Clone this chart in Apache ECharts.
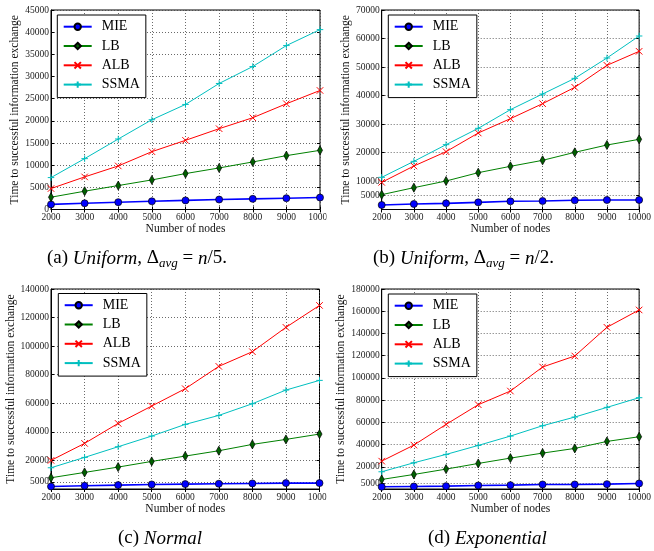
<!DOCTYPE html>
<html>
<head>
<meta charset="utf-8">
<script src="https://cdn.jsdelivr.net/npm/echarts@6/dist/echarts.min.js"></script>
<style>
html,body{margin:0;padding:0;background:#fff;}
#c{width:654px;height:551px;}
</style>
</head>
<body>
<div id="c"></div>
<script>
// ---------------- data ----------------
const nodes = [2000, 3000, 4000, 5000, 6000, 7000, 8000, 9000, 10000];
const seriesNames = ['MIE', 'LB', 'ALB', 'SSMA'];

// (a) Uniform, avg = n/5
const a_MIE  = [1150, 1400, 1650, 1850, 2050, 2250, 2400, 2550, 2700];
const a_LB   = [2775, 4125, 5400, 6675, 8100, 9375, 10725, 12150, 13350];
const a_ALB  = [4725, 7350, 9825, 13050, 15600, 18225, 20700, 23850, 26850];
const a_SSMA = [7200, 11475, 15900, 20250, 23700, 28425, 32250, 36975, 40575];

// (b) Uniform, avg = n/2
const b_MIE  = [1580, 1930, 2160, 2510, 2870, 2980, 3220, 3330, 3350];
const b_LB   = [5200, 7660, 10000, 12920, 15150, 17250, 20060, 22630, 24620];
const b_ALB  = [9530, 15260, 20290, 26840, 31870, 37130, 42870, 50580, 55500];
const b_SSMA = [11290, 16900, 22750, 28480, 35030, 40530, 46020, 53160, 60880];

// (c) Normal
const c_MIE  = [1800, 2260, 2730, 3200, 3430, 3670, 3900, 4130, 4130];
const c_LB   = [7870, 11600, 15340, 19310, 23040, 26780, 31220, 34720, 38450];
const c_ALB  = [20010, 31920, 45920, 58060, 70200, 85840, 96110, 113150, 128500];
const c_SSMA = [14870, 22110, 29580, 37050, 45220, 51520, 59690, 69260, 76030];

// (d) Exponential
const d_MIE  = [1980, 2280, 2580, 3180, 3480, 4080, 4080, 4380, 4980];
const d_LB   = [8590, 13090, 17900, 23000, 27810, 32310, 36520, 42820, 47030];
const d_ALB  = [25100, 39520, 58140, 75860, 88170, 109790, 119700, 145530, 161140];
const d_SSMA = [15500, 23600, 31110, 39220, 47630, 56940, 64750, 73460, 82170];

// tick labels
const xTicks = [2000, 3000, 4000, 5000, 6000, 7000, 8000, 9000, 10000];
const a_yTicks = [0, 5000, 10000, 15000, 20000, 25000, 30000, 35000, 40000, 45000];
const b_yTicks = [5000, 10000, 20000, 30000, 40000, 50000, 60000, 70000];
const c_yTicks = [5000, 20000, 40000, 60000, 80000, 100000, 120000, 140000];
const d_yTicks = [5000, 20000, 40000, 60000, 80000, 100000, 120000, 140000, 160000, 180000];

const yMax = [45000, 70000, 140000, 180000];
const panelData = [
  [a_MIE, a_LB, a_ALB, a_SSMA],
  [b_MIE, b_LB, b_ALB, b_SSMA],
  [c_MIE, c_LB, c_ALB, c_SSMA],
  [d_MIE, d_LB, d_ALB, d_SSMA]
];
const panelYTicks = [a_yTicks, b_yTicks, c_yTicks, d_yTicks];

// ---------------- layout / style ----------------
const FONT = 'Liberation Serif';
const grids = [
  {left: 51,    top: 10,  width: 269,   height: 199.5},
  {left: 381.7, top: 10,  width: 267.8, height: 199.5},
  {left: 51,    top: 289, width: 268.5, height: 200},
  {left: 381.7, top: 289, width: 267.8, height: 200}
];
const legendPos = [
  {left: 57.3, top: 15},
  {left: 388.3, top: 15},
  {left: 58.3, top: 293.5},
  {left: 388.3, top: 294}
];
const colors = ['#0000ff', '#008000', '#ff0000', '#00bfbf'];
const symbols = [
  'circle',
  'path://M5,0L8,10L5,20L2,10Z',
  'path://M0,0L10,10M10,0L0,10',
  'path://M5,0L5,10M0,5L10,5'
];
const symSizes = [7, [5, 9], 6.5, 6.5];

const fmt = v => String(v);

const xAxes = [], yAxes = [], series = [], legends = [];
grids.forEach((g, gi) => {
  const ticks = panelYTicks[gi];
  xAxes.push({
    type: 'value', gridIndex: gi, min: 2000, max: 10000, interval: 1000,
    position: 'bottom',
    name: 'Number of nodes', nameLocation: 'middle', nameGap: 13.5,
    nameTextStyle: {fontFamily: FONT, fontSize: 11.5, color: '#111'},
    axisLine: {show: true, lineStyle: {color: '#000', width: 1}},
    axisTick: {show: true, inside: true, length: 3, lineStyle: {color: '#000'}},
    axisLabel: {fontFamily: FONT, fontSize: 9.5, color: '#222', margin: 3, formatter: fmt, showMinLabel: true, showMaxLabel: true, hideOverlap: false},
    splitLine: {show: true, lineStyle: {color: '#444', width: 0.8, type: [1, 2]}}
  });
  xAxes.push({
    type: 'value', gridIndex: gi, min: 2000, max: 10000, interval: 1000,
    position: 'top',
    axisLine: {show: false},
    axisTick: {show: true, inside: true, length: 3, lineStyle: {color: '#000'}},
    axisLabel: {show: false},
    splitLine: {show: false}
  });
  const yBase = {
    type: 'value', gridIndex: gi, min: 0, max: yMax[gi]
  };
  yAxes.push(Object.assign({}, yBase, {
    position: 'left',
    name: 'Time to successful information exchange', nameLocation: 'middle', nameGap: 28.5,
    nameTextStyle: {fontFamily: FONT, fontSize: 11.5, color: '#111'},
    axisLine: {show: true, lineStyle: {color: '#000', width: 1}},
    axisTick: {show: true, inside: true, length: 3, customValues: ticks, lineStyle: {color: '#000'}},
    axisLabel: {fontFamily: FONT, fontSize: 9.5, color: '#222', margin: 2, formatter: fmt, customValues: ticks},
    splitLine: {show: true, customValues: ticks, lineStyle: {color: '#444', width: 0.8, type: [1, 2]}}
  }));
  yAxes.push(Object.assign({}, yBase, {
    position: 'right',
    axisLine: {show: false},
    axisTick: {show: true, inside: true, length: 3, customValues: ticks, lineStyle: {color: '#000'}},
    axisLabel: {show: false, customValues: ticks},
    splitLine: {show: false}
  }));
  seriesNames.forEach((nm, si) => {
    const isStroke = si >= 2;
    series.push({
      type: 'line', name: nm,
      xAxisIndex: gi * 2, yAxisIndex: gi * 2,
      data: nodes.map((x, k) => [x, panelData[gi][si][k]]),
      symbol: symbols[si], symbolSize: symSizes[si], symbolKeepAspect: false,
      showAllSymbol: true,
      lineStyle: {color: colors[si], width: si === 0 ? 1.6 : 1},
      itemStyle: isStroke
        ? {color: colors[si], borderColor: colors[si], borderWidth: 1}
        : {color: colors[si] === '#008000' ? '#006000' : colors[si], borderColor: '#000', borderWidth: 0.7},
      emphasis: {disabled: true},
      animation: false,
      z: 3 + si
    });
  });
  legends.push({
    orient: 'vertical',
    left: legendPos[gi].left, top: legendPos[gi].top,
    data: seriesNames.slice(),
    itemWidth: 28, itemHeight: 8, itemGap: 5.3,
    padding: [4.7, 6, 6, 5.4],
    backgroundColor: '#fff', borderColor: '#000', borderWidth: 1,
    selectedMode: false,
    textStyle: {fontFamily: FONT, fontSize: 14, color: '#000', lineHeight: 14, padding: [0, 0, 0, 5]},
    z: 10
  });
});

// captions
const rich = {
  n: {fontFamily: FONT, fontSize: 19, lineHeight: 24, color: '#000', verticalAlign: 'middle'},
  i: {fontFamily: FONT, fontSize: 19, lineHeight: 24, color: '#000', fontStyle: 'italic', verticalAlign: 'middle'},
  s: {fontFamily: FONT, fontSize: 13, lineHeight: 13, color: '#000', fontStyle: 'italic', verticalAlign: 'bottom'}
};
function caption(x, y, txt) {
  return {type: 'text', left: x, top: y - 9, z: 100,
    style: {text: txt, rich: rich, fill: '#000'}};
}

const option = {
  backgroundColor: '#fff',
  animation: false,
  grid: grids.map(g => Object.assign({show: true, borderColor: '#000', borderWidth: 1, backgroundColor: 'transparent'}, g)),
  xAxis: xAxes,
  yAxis: yAxes,
  legend: legends,
  series: series,
  graphic: [
    // figure crop of the subfigure on the right edge
    {type: 'rect', shape: {x: 326.5, y: 211, width: 10, height: 12}, style: {fill: '#fff'}, z: 100},
    {type: 'rect', shape: {x: 326.5, y: 490, width: 10, height: 12}, style: {fill: '#fff'}, z: 100},
    caption(47, 258, '{n|(a) }{i|Uniform}{n|, Δ}{s|avg}{n| = }{i|n}{n|/5.}'),
    caption(373, 258, '{n|(b) }{i|Uniform}{n|, Δ}{s|avg}{n| = }{i|n}{n|/2.}'),
    caption(118, 538, '{n|(c) }{i|Normal}'),
    caption(428, 538, '{n|(d) }{i|Exponential}')
  ]
};

const chart = echarts.init(document.getElementById('c'), null, {renderer: 'canvas'});
chart.setOption(option);
</script>
</body>
</html>
